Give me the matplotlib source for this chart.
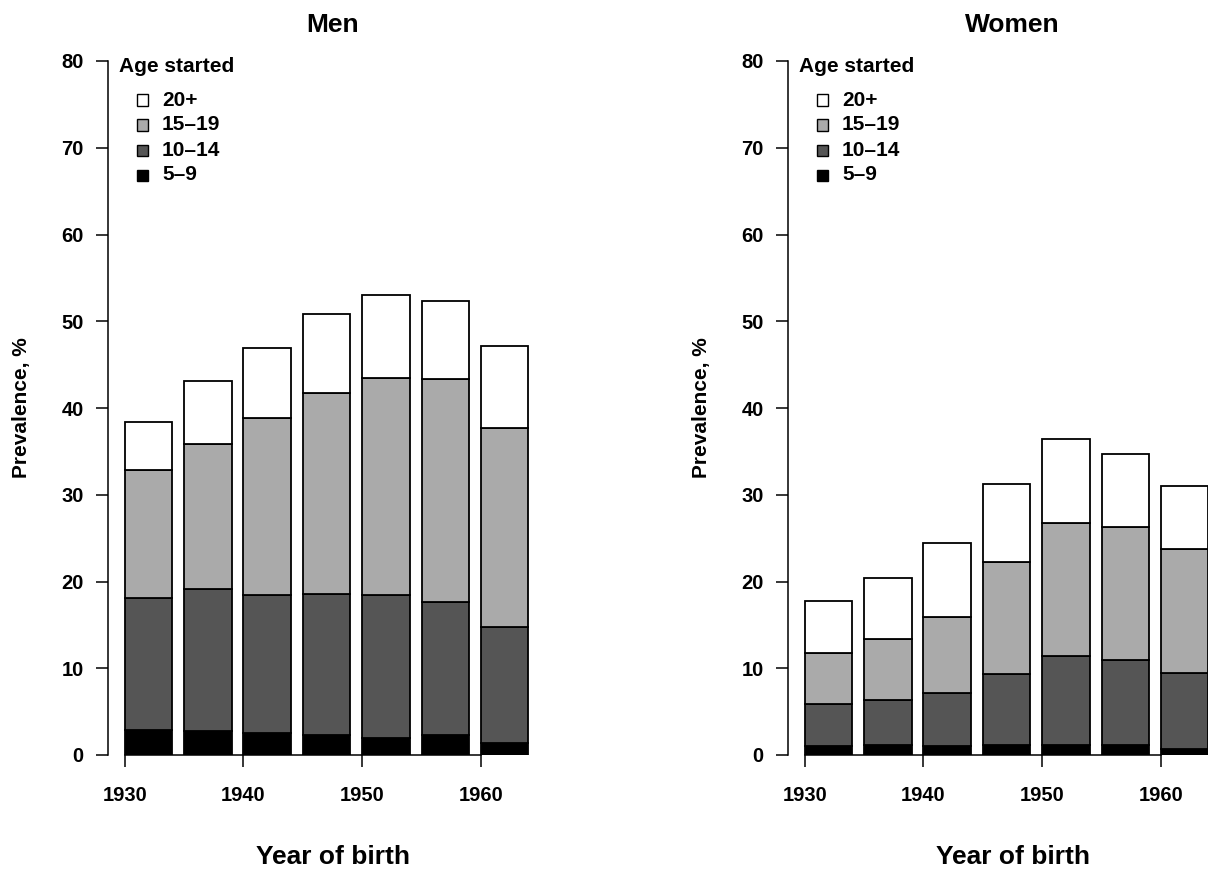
import matplotlib
matplotlib.use("Agg")
import matplotlib.pyplot as plt
from matplotlib.patches import Rectangle
import numpy as np

plt.rcParams['font.family'] = ['Liberation Sans', 'DejaVu Sans']
plt.rcParams['font.weight'] = 'bold'

# ---- data ----
cohort_start = [1930, 1935, 1940, 1945, 1950, 1955, 1960]
age_groups = ["5\u20139", "10\u201314", "15\u201319", "20+"]
colors = ["#000000", "#555555", "#AAAAAA", "#FFFFFF"]

men_5_9 = [2.9, 2.8, 2.5, 2.3, 2.0, 2.3, 1.4]
men_10_14 = [15.2, 16.3, 16.0, 16.3, 16.4, 15.3, 13.3]
men_15_19 = [14.7, 16.7, 20.3, 23.1, 25.1, 25.7, 23.0]
men_20p = [5.6, 7.3, 8.1, 9.1, 9.5, 9.0, 9.5]

women_5_9 = [1.0, 1.1, 1.0, 1.1, 1.1, 1.2, 0.7]
women_10_14 = [4.9, 5.2, 6.1, 8.2, 10.3, 9.7, 8.7]
women_15_19 = [5.9, 7.1, 8.8, 13.0, 15.4, 15.4, 14.3]
women_20p = [5.9, 7.0, 8.5, 8.9, 9.6, 8.4, 7.3]

x_ticks = [1930, 1940, 1950, 1960]
y_ticks = [0, 10, 20, 30, 40, 50, 60, 70, 80]

W, H = 1208, 874
fig = plt.figure(figsize=(W / 100, H / 100), dpi=100)

def fx(px):
    return px / W

def fy(py):
    return 1 - py / H

def panel(left_px, title, series):
    ax = fig.add_axes([fx(left_px), fy(755), 449 / W, 694 / H])
    bottom = np.zeros(len(cohort_start))
    for vals, col in zip(series, colors):
        ax.bar(cohort_start, vals, width=4, bottom=bottom, align='edge',
               color=col, edgecolor='black', linewidth=1.3, zorder=3)
        bottom = bottom + np.array(vals)
    ax.set_xlim(1928.6, 1966.4)
    ax.set_ylim(0, 80)
    ax.set_xticks(x_ticks)
    ax.set_yticks(y_ticks)
    for s in ['top', 'right']:
        ax.spines[s].set_visible(False)
    ax.spines['left'].set_bounds(0, 80)
    ax.spines['bottom'].set_bounds(1930, 1960)
    ax.spines['left'].set_linewidth(1.1)
    ax.spines['bottom'].set_linewidth(1.1)
    ax.tick_params(axis='both', direction='out', length=8.5, width=1.1,
                   labelsize=14.5)
    ax.tick_params(axis='y', pad=9)
    ax.tick_params(axis='x', pad=14)
    for lab in ax.get_xticklabels() + ax.get_yticklabels():
        lab.set_fontweight('bold')
    cx = left_px + 224.5
    fig.text(fx(cx), fy(25.5), title, ha='center', va='center',
             fontsize=19, fontweight='bold')
    fig.text(fx(cx), fy(857), "Year of birth", ha='center', va='center',
             fontsize=19, fontweight='bold')
    fig.text(fx(left_px - 86), fy(408), "Prevalence, %", ha='center',
             va='center', rotation=90, fontsize=15, fontweight='bold')
    # legend
    fig.text(fx(left_px + 11), fy(67), "Age started", ha='left', va='center',
             fontsize=15, fontweight='bold')
    ys = [100, 125, 150, 175]
    for yy, lab, col in zip(ys, age_groups[::-1], colors[::-1]):
        fig.patches.append(Rectangle((fx(left_px + 29), fy(yy + 5.5)), 11 / W, 11 / H,
                                     transform=fig.transFigure, facecolor=col,
                                     edgecolor='black', linewidth=1.0))
        fig.text(fx(left_px + 54), fy(yy), lab, ha='left', va='center',
                 fontsize=15, fontweight='bold')
    return ax

panel(108, "Men", [men_5_9, men_10_14, men_15_19, men_20p])
panel(788, "Women", [women_5_9, women_10_14, women_15_19, women_20p])

fig.savefig("out.png", dpi=100)
